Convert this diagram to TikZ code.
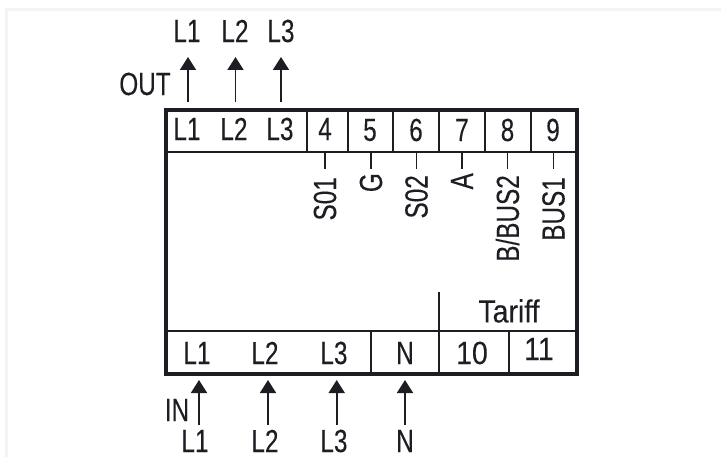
\documentclass[tikz,border=0pt]{standalone}
\usepackage{fontspec}
\setmainfont[FakeStretch=0.76,FakeBold=0.15]{Liberation Sans}
\newfontfamily\widefont[FakeStretch=0.89,FakeBold=0.15]{Liberation Sans}
\usetikzlibrary{arrows.meta,positioning}
\definecolor{inkdark}{HTML}{1D1E24}
\definecolor{edgegray}{HTML}{F4F4F4}
\tikzset{
    frameline/.style={draw=inkdark, line width=4pt},
    cell/.style={draw=inkdark, line width=1.9pt, minimum height=42pt, inner sep=0pt, text=inkdark},
    tag/.style={inner sep=0pt, font=\fontsize{32}{32}\selectfont, text=inkdark},
    widetag/.style={tag, font=\fontsize{32}{32}\selectfont\widefont},
    sidetag/.style={tag, rotate=90, anchor=east},
    flow/.style={-{Triangle[length=13pt, width=16pt]}, draw=inkdark, line width=1.9pt},
    stub/.style={draw=inkdark, line width=1.9pt}
}

\begin{document}
\begin{tikzpicture}[x=1pt,y=-1pt]
    \useasboundingbox (0,0) rectangle (721,457);
    \draw[edgegray, line width=3pt] (6.5,457) -- (6.5,9.5) -- (721,9.5);

    % Top row of terminals
    \node[cell, minimum width=141.2pt] (cL) at (236.1,131.2) {};
    \node[cell, minimum width=41pt] (c4) at (327.2,131.2) {};
    \node[cell, minimum width=45.7pt] (c5) at (370.5,131.2) {};
    \node[cell, minimum width=45.8pt] (c6) at (416.4,131.2) {};
    \node[cell, minimum width=45.7pt] (c7) at (462.2,131.2) {};
    \node[cell, minimum width=45.7pt] (c8) at (507.9,131.2) {};
    \node[cell, minimum width=46pt] (c9) at (553.7,131.2) {};
    \node[tag] at (187,129) {L1};
    \node[tag] at (234,129) {L2};
    \node[tag] at (280,129) {L3};
    \node[tag] at (325,129) {4};
    \node[tag] at (370,130) {5};
    \node[tag] at (416,130) {6};
    \node[tag] at (462,130) {7};
    \node[tag] at (507.5,130) {8};
    \node[tag] at (553,130) {9};

    % Bottom row of terminals
    \node[cell, minimum width=205.2pt] (cIn) at (268.1,352.2) {};
    \node[cell, minimum width=68pt] (cN) at (404.7,352.2) {};
    \node[cell, minimum width=70pt] (c10) at (473.7,352.2) {};
    \node[cell, minimum width=68pt] (c11) at (542.7,352.2) {};
    \node[tag] at (197,353) {L1};
    \node[tag] at (265,353) {L2};
    \node[tag] at (334,353) {L3};
    \node[tag] at (405,353) {N};
    \node[widetag] at (472,353) {10};
    \node[widetag] at (539,349) {11};
    \node[widetag] (tariff) at (509,311) {Tariff};
    \coordinate (tarifftop) at (438.7,292.5);
    \draw[stub] (tarifftop) -- (tarifftop |- c10.north);

    % Outer frame
    \node[frameline, minimum width=411.2pt, minimum height=263.2pt, inner sep=0pt] (meter) at (371.1,242.1) {};

    % Signal labels under terminals 4 to 9
    \node[sidetag] (s01) at (325,177) {S01};
    \node[sidetag] (g) at (371,173) {G};
    \node[sidetag] (s02) at (416.5,175) {S02};
    \node[sidetag] (a) at (462,173) {A};
    \node[sidetag] (bbus) at (507.5,175) {B/BUS2};
    \node[sidetag] (bus) at (553.5,177) {BUS1};
    \coordinate (s01e) at (325,169);
    \coordinate (ge) at (371,169);
    \coordinate (s02e) at (416.5,169);
    \coordinate (ae) at (462,169);
    \coordinate (bbuse) at (507.5,169);
    \coordinate (buse) at (553.5,169);
    \draw[stub] (c4.south -| s01e) -- (s01e);
    \draw[stub] (c5.south -| ge) -- (ge);
    \draw[stub] (c6.south -| s02e) -- (s02e);
    \draw[stub] (c7.south -| ae) -- (ae);
    \draw[stub] (c8.south -| bbuse) -- (bbuse);
    \draw[stub] (c9.south -| buse) -- (buse);

    % OUT arrows
    \node[tag] (outL1) at (187,31) {L1};
    \node[tag] (outL2) at (235,31) {L2};
    \node[tag] (outL3) at (281,31) {L3};
    \node[tag] (out) at (145,84) {OUT};
    \coordinate (o1) at (188,102);
    \coordinate (o2) at (235.5,102);
    \coordinate (o3) at (281,102);
    \coordinate (o1t) at (188,57);
    \coordinate (o2t) at (235.5,57);
    \coordinate (o3t) at (281,57);
    \draw[flow] (o1) -- (o1t);
    \draw[flow] (o2) -- (o2t);
    \draw[flow] (o3) -- (o3t);

    % IN arrows
    \node[tag] (in) at (177,410) {IN};
    \node[tag] (inL1) at (195,441) {L1};
    \node[tag] (inL2) at (265,441) {L2};
    \node[tag] (inL3) at (334,441) {L3};
    \node[tag] (inN) at (405,441) {N};
    \coordinate (i1) at (199,425);
    \coordinate (i2) at (268,425);
    \coordinate (i3) at (336.7,425);
    \coordinate (i4) at (405,425);
    \coordinate (i1t) at (199,380);
    \coordinate (i2t) at (268,380);
    \coordinate (i3t) at (336.7,380);
    \coordinate (i4t) at (405,380);
    \draw[flow] (i1) -- (i1t);
    \draw[flow] (i2) -- (i2t);
    \draw[flow] (i3) -- (i3t);
    \draw[flow] (i4) -- (i4t);
\end{tikzpicture}
\end{document}
